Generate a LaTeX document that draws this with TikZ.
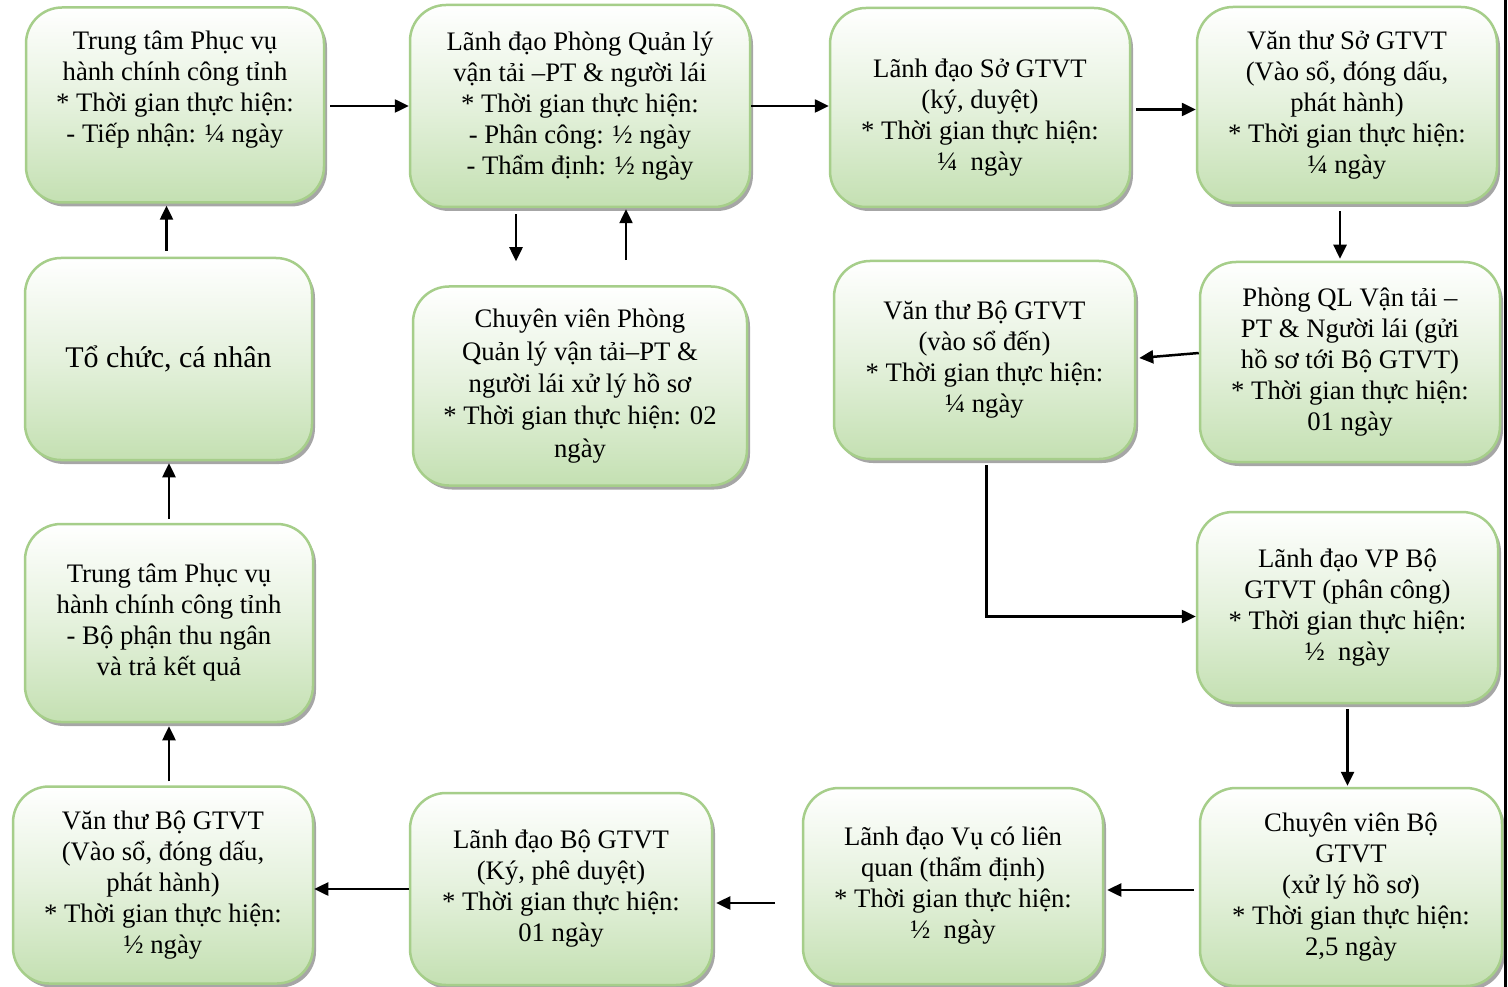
\documentclass[tikz,border=0pt]{standalone}
\usepackage{fontspec}
\setmainfont{Liberation Serif}
\usetikzlibrary{arrows.meta,shadows,calc}
\definecolor{boxfill}{RGB}{196,224,178}
\definecolor{boxborder}{RGB}{166,206,138}
\tikzset{
  box/.style={rectangle, rounded corners=36pt, draw=boxborder, line width=2.5pt,
    top color=white, bottom color=boxfill, middle color=boxfill!45,
    drop shadow={shadow xshift=3pt, shadow yshift=-4pt, fill=black, opacity=0.35},
    align=center, inner sep=0pt, font=\fontsize{26.7}{31}\selectfont},
  arr/.style={line width=2.5pt, -{Triangle[length=14pt,width=13pt]}},
}
\begin{document}
\begin{tikzpicture}[x=1pt,y=-1pt]
\useasboundingbox (0,0) rectangle (1508,987);
\fill[white] (0,0) rectangle (1508,987);
\node[box, minimum width=298pt, minimum height=195pt] (a) at (175,105) {Trung tâm Phục vụ\\hành chính công tỉnh\\* Thời gian thực hiện:\\- Tiếp nhận: ¼ ngày\\[-4pt]\strut};
\node[box, minimum width=340pt, minimum height=202pt] (b) at (580,106) {Lãnh đạo Phòng Quản lý\\vận tải –PT \& người lái\\* Thời gian thực hiện:\\- Phân công: ½ ngày\\- Thẩm định: ½ ngày};
\node[box, minimum width=300pt, minimum height=199pt] (c) at (980,107.5) {\strut\\[-13pt]Lãnh đạo Sở GTVT\\(ký, duyệt)\\* Thời gian thực hiện:\\¼~ ngày};
\node[box, minimum width=300pt, minimum height=196pt] (d) at (1347,105) {Văn thư Sở GTVT\\(Vào sổ, đóng dấu,\\phát hành)\\* Thời gian thực hiện:\\¼ ngày};
\node[box, minimum width=287pt, minimum height=202pt, font=\fontsize{30}{36}\selectfont] (e) at (168.5,359) {Tổ chức, cá nhân};
\node[box, minimum width=334pt, minimum height=199pt, font=\fontsize{26.7}{32.3}\selectfont] (f) at (580,386) {Chuyên viên Phòng\\Quản lý vận tải–PT \&\\người lái xử lý hồ sơ\\* Thời gian thực hiện: 02\\ngày};
\node[box, minimum width=301pt, minimum height=198pt] (g) at (984.5,360) {Văn thư Bộ GTVT\\(vào sổ đến)\\* Thời gian thực hiện:\\¼ ngày};
\node[box, minimum width=300pt, minimum height=200pt] (h) at (1350,362) {Phòng QL Vận tải –\\PT \& Người lái (gửi\\hồ sơ tới Bộ GTVT)\\* Thời gian thực hiện:\\01 ngày};
\node[box, minimum width=288pt, minimum height=198pt] (i) at (169,623) {Trung tâm Phục vụ\\hành chính công tỉnh\\- Bộ phận thu ngân\\và trả kết quả};
\node[box, minimum width=301pt, minimum height=191pt] (j) at (1347.5,607.5) {Lãnh đạo VP Bộ\\GTVT (phân công)\\* Thời gian thực hiện:\\½~ ngày};
\node[box, minimum width=300pt, minimum height=197pt] (k) at (163,885) {Văn thư Bộ GTVT\\(Vào sổ, đóng dấu,\\phát hành)\\* Thời gian thực hiện:\\½ ngày};
\node[box, minimum width=302pt, minimum height=192pt] (l) at (561,889) {Lãnh đạo Bộ GTVT\\(Ký, phê duyệt)\\* Thời gian thực hiện:\\01 ngày};
\node[box, minimum width=300pt, minimum height=196pt] (m) at (953,886) {Lãnh đạo Vụ có liên\\quan (thẩm định)\\* Thời gian thực hiện:\\½~ ngày};
\node[box, minimum width=302pt, minimum height=198pt] (n) at (1351,887) {Chuyên viên Bộ\\GTVT\\(xử lý hồ sơ)\\* Thời gian thực hiện:\\2,5 ngày};
% connectors
\draw[arr] ($(a.east)+(5,1)$) -- ($(a.east -| b.west)+(0,1)$);
\draw[arr] (b.east) -- (b.east -| c.west);
\draw[arr] ($(c.east)+(5,2)$) -- ($(c.east -| d.west)+(0,2)$);
\draw[arr] ($(d.south)+(-7,7)$) -- ($(d.south |- h.north)+(-7,-2)$);
\draw[arr] ($(h.west)+(0,-9)$) -- ($(h.west -| g.east)+(3,-4)$);
\draw[arr] ($(g.south)+(2,5)$) |- ($(j.west)+(0,9)$);
\draw[arr] ($(j.south)+(0,5)$) -- ($(j.south |- n.north)+(0,-1)$);
\draw[arr] ($(n.west)+(-5,3)$) -- ($(n.west -| m.east)+(3,3)$);
\coordinate (fr) at (775,903);
\draw[arr] (fr) -- ($(fr -| l.east)+(3,0)$);
\draw[arr] (l.west) -- (l.west -| k.east);
\draw[arr] ($(k.north -| i.south)+(0,-4)$) -- ($(i.south)+(0,3)$);
\draw[arr] ($(i.north)+(0,-4)$) -- ($(i.north |- e.south)+(0,2)$);
\draw[arr] ($(e.north)+(-2,-6)$) -- ($(e.north |- a.south)+(-2,2)$);
\draw[arr] ($(b.south)+(-64,6)$) -- ($(b.south |- f.north)+(-64,-24)$);
\draw[arr] ($(f.north)+(46,-25)$) -- ($(f.north |- b.south)+(46,1)$);
% page edge line
\draw[line width=3pt] (1505.5,0) -- (1505.5,987);
\end{tikzpicture}
\end{document}
